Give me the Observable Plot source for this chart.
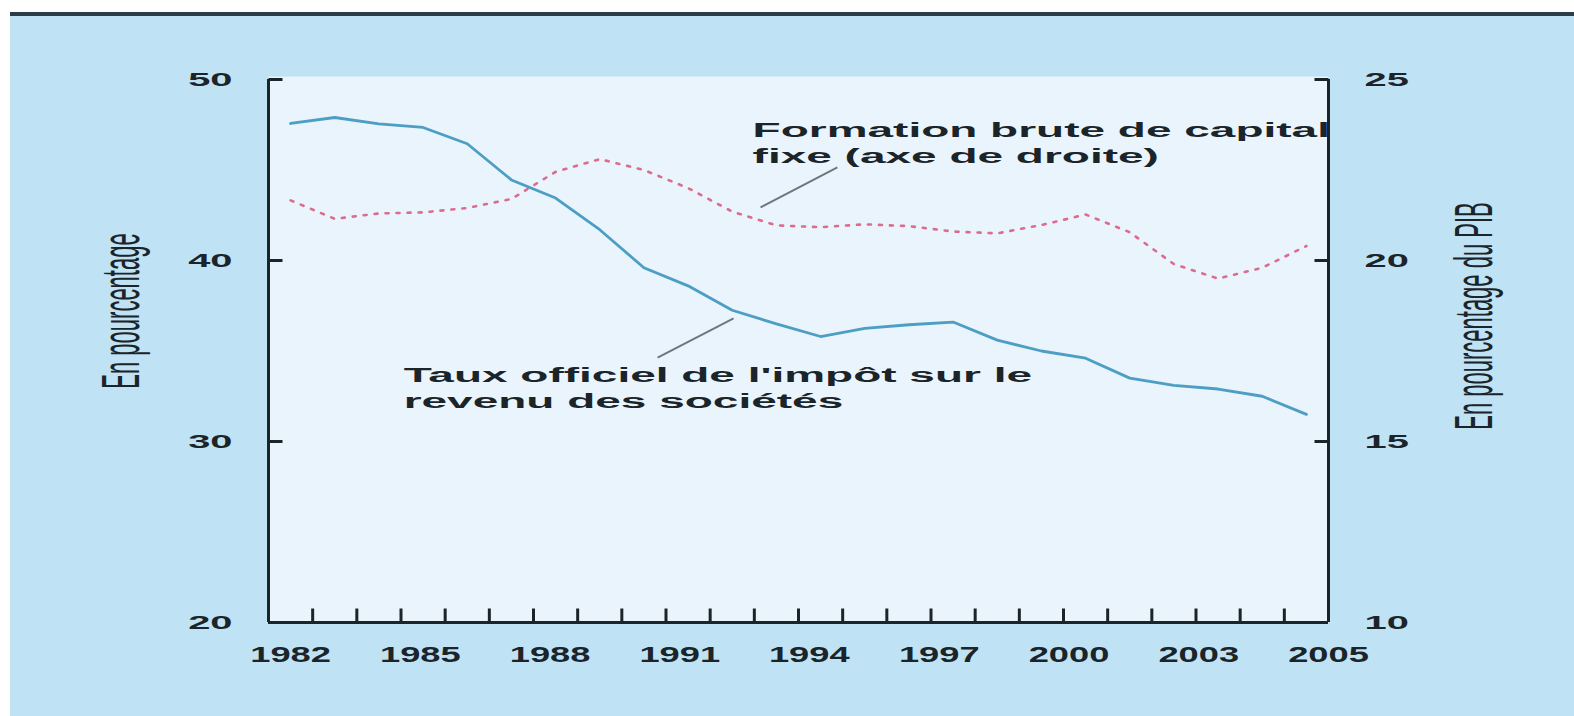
<!DOCTYPE html>
<html><head><meta charset="utf-8">
<script src="https://cdn.jsdelivr.net/npm/d3@7"></script>
<script src="https://cdn.jsdelivr.net/npm/@observablehq/plot@0.6"></script>
<style>
html,body{margin:0;padding:0;background:#fff;}
#wrap{position:relative;width:1574px;height:716px;overflow:hidden;}
#panel{position:absolute;left:10px;top:12px;right:0;bottom:0;background:#bfe3f5;border-top:4px solid #2c3d47;}
#chart{position:absolute;left:0;top:0;}
</style></head><body>
<div id="wrap"><div id="panel"></div><div id="chart"></div></div>
<script>
// ---- data ----
const years = [1982,1983,1984,1985,1986,1987,1988,1989,1990,1991,1992,1993,1994,1995,1996,1997,1998,1999,2000,2001,2002,2003,2004,2005];
const corporateTaxRate = [47.57,47.9,47.55,47.35,46.45,44.45,43.45,41.7,39.6,38.6,37.25,36.5,35.8,36.25,36.45,36.6,35.6,35.0,34.6,33.5,33.1,32.9,32.5,31.5];
const grossFixedCapital = [21.66,21.15,21.3,21.33,21.45,21.7,22.45,22.8,22.5,22.0,21.35,20.97,20.92,21.0,20.95,20.8,20.75,20.98,21.27,20.78,19.9,19.5,19.8,20.4];
const xTickLabels = [1982,1985,1988,1991,1994,1997,2000,2003,2005];
const yLeftTicks = [20,30,40,50];
const yRightTicks = [10,15,20,25];
const xDomain = [1981.5, 2005.5];
const yLeftDomain = [20, 50];
const yRightDomain = [10, 25];
const yTitleLeft = "En pourcentage";
const yTitleRight = "En pourcentage du PIB";
const annotationTexts = ["Formation brute de capital\nfixe (axe de droite)", "Taux officiel de l'impôt sur le\nrevenu des sociétés"];
const annotationX = [1992.46, 1984.56];
const annotationY = [47.85, 34.31];
const leaderFrom = [[1992.64, 42.93], [1990.31, 34.64]];
const leaderTo = [[1994.38, 45.14], [1992.03, 36.8]];

// ---- derived ----
const toLeft = v => yLeftDomain[0] + (v - yRightDomain[0]) * (yLeftDomain[1] - yLeftDomain[0]) / (yRightDomain[1] - yRightDomain[0]);
const tax = years.map((year, i) => ({year, value: corporateTaxRate[i]}));
const gfcf = years.map((year, i) => ({year, value: grossFixedCapital[i]}));
const xTickMarks = years.slice(0, -1).map(y => y + 0.5);
const annotations = annotationTexts.map((text, i) => ({text, x: annotationX[i], y: annotationY[i]}));
const leaders = leaderFrom.map((f, i) => ({x1: f[0], y1: f[1], x2: leaderTo[i][0], y2: leaderTo[i][1]}));
const labelStep = (xDomain[1] - xTickLabels[0]) / (xTickLabels.length - 1);

const W = 1574, H = 716;
const mL = 268, mR = 246, mT = 79, mB = 94;
const innerW = W - mL - mR, innerH = H - mT - mB;
const tickLen = 14;
const tickDx = tickLen * (xDomain[1] - xDomain[0]) / innerW;
const tickDy = tickLen * (yLeftDomain[1] - yLeftDomain[0]) / innerH;
const ink = "#1b2429";

const plot = Plot.plot({
  width: W, height: H,
  marginLeft: mL, marginRight: mR, marginTop: mT, marginBottom: mB,
  x: {domain: xDomain, axis: null},
  y: {domain: yLeftDomain, axis: null},
  style: {background: "transparent", fontFamily: "'Liberation Sans', Arial, sans-serif", color: ink, overflow: "visible"},
  marks: [
    Plot.frame({fill: "#e9f4fc", stroke: null, insetTop: -3}),
    Plot.line(gfcf, {x: "year", y: d => toLeft(d.value), stroke: "#dc6c8e", strokeWidth: 2.6, strokeDasharray: "3,8"}),
    Plot.line(tax, {x: "year", y: "value", stroke: "#4c9ec4", strokeWidth: 2.8}),
    Plot.link(leaders, {x1: "x1", y1: "y1", x2: "x2", y2: "y2", stroke: "#6c787e", strokeWidth: 2}),
    Plot.text(annotations, {x: "x", y: "y", text: "text", textAnchor: "start", lineAnchor: "top", lineHeight: 1.3, fontSize: 20, fontWeight: "bold", fill: ink}),
    Plot.ruleX(xDomain, {stroke: ink, strokeWidth: 3}),
    Plot.ruleY([yLeftDomain[0]], {stroke: ink, strokeWidth: 3}),
    Plot.link(xTickMarks, {x1: d => d, x2: d => d, y1: () => yLeftDomain[0], y2: () => yLeftDomain[0] + tickDy, stroke: ink, strokeWidth: 3}),
    Plot.link(yLeftTicks.slice(1), {x1: () => xDomain[0], x2: () => xDomain[0] + tickDx, y1: d => d, y2: d => d, stroke: ink, strokeWidth: 3}),
    Plot.link(yRightTicks.slice(1), {x1: () => xDomain[1], x2: () => xDomain[1] - tickDx, y1: d => toLeft(d), y2: d => toLeft(d), stroke: ink, strokeWidth: 3}),
    Plot.text(xTickLabels, {x: (d, i) => xTickLabels[0] + i * labelStep, y: yLeftDomain[0], dy: 32, text: d => String(d), textAnchor: "middle", fontSize: 22, fontWeight: "bold", fill: ink}),
    Plot.text(yLeftTicks, {x: xDomain[0], y: d => d, dx: -36, text: d => String(d), textAnchor: "end", fontSize: 19, fontWeight: "bold", fill: ink}),
    Plot.text(yRightTicks, {x: xDomain[1], y: d => toLeft(d), dx: 36, text: d => String(d), textAnchor: "start", fontSize: 19, fontWeight: "bold", fill: ink}),
    Plot.text([yTitleLeft], {frameAnchor: "left", dx: -146, dy: -40, rotate: -90, textAnchor: "middle", fontSize: 22, fill: ink}),
    Plot.text([yTitleRight], {frameAnchor: "right", dx: 147, dy: -35, rotate: -90, textAnchor: "middle", fontSize: 22, fill: ink})
  ]
});

document.getElementById("chart").appendChild(plot);

// emulate the horizontally stretched lettering of the original
const groups = [
  {set: new Set(xTickLabels.map(String)), s: 1.65, rot: false},
  {set: new Set([...yLeftTicks, ...yRightTicks].map(String)), s: 2.1, rot: false},
  {set: new Set(annotationTexts.map(t => t.replace(/\n/g, ""))), s: 2.3, rot: false},
  {set: new Set([yTitleLeft, yTitleRight]), s: 2.4, rot: true}
];
plot.querySelectorAll("text").forEach(t => {
  const g = groups.find(g => g.set.has(t.textContent));
  if (!g) return;
  const tr = t.getAttribute("transform") || "";
  if (g.rot) {
    if (tr.includes("rotate")) t.setAttribute("transform", tr.replace("rotate", `scale(${g.s},1) rotate`));
    return;
  }
  const b = t.getBBox();
  const anchor = getComputedStyle(t).textAnchor;
  const ax = anchor === "end" ? b.x + b.width : anchor === "middle" ? b.x + b.width / 2 : b.x;
  t.setAttribute("transform", `${tr} translate(${ax},0) scale(${g.s},1) translate(${-ax},0)`.trim());
});
</script>
</body></html>
